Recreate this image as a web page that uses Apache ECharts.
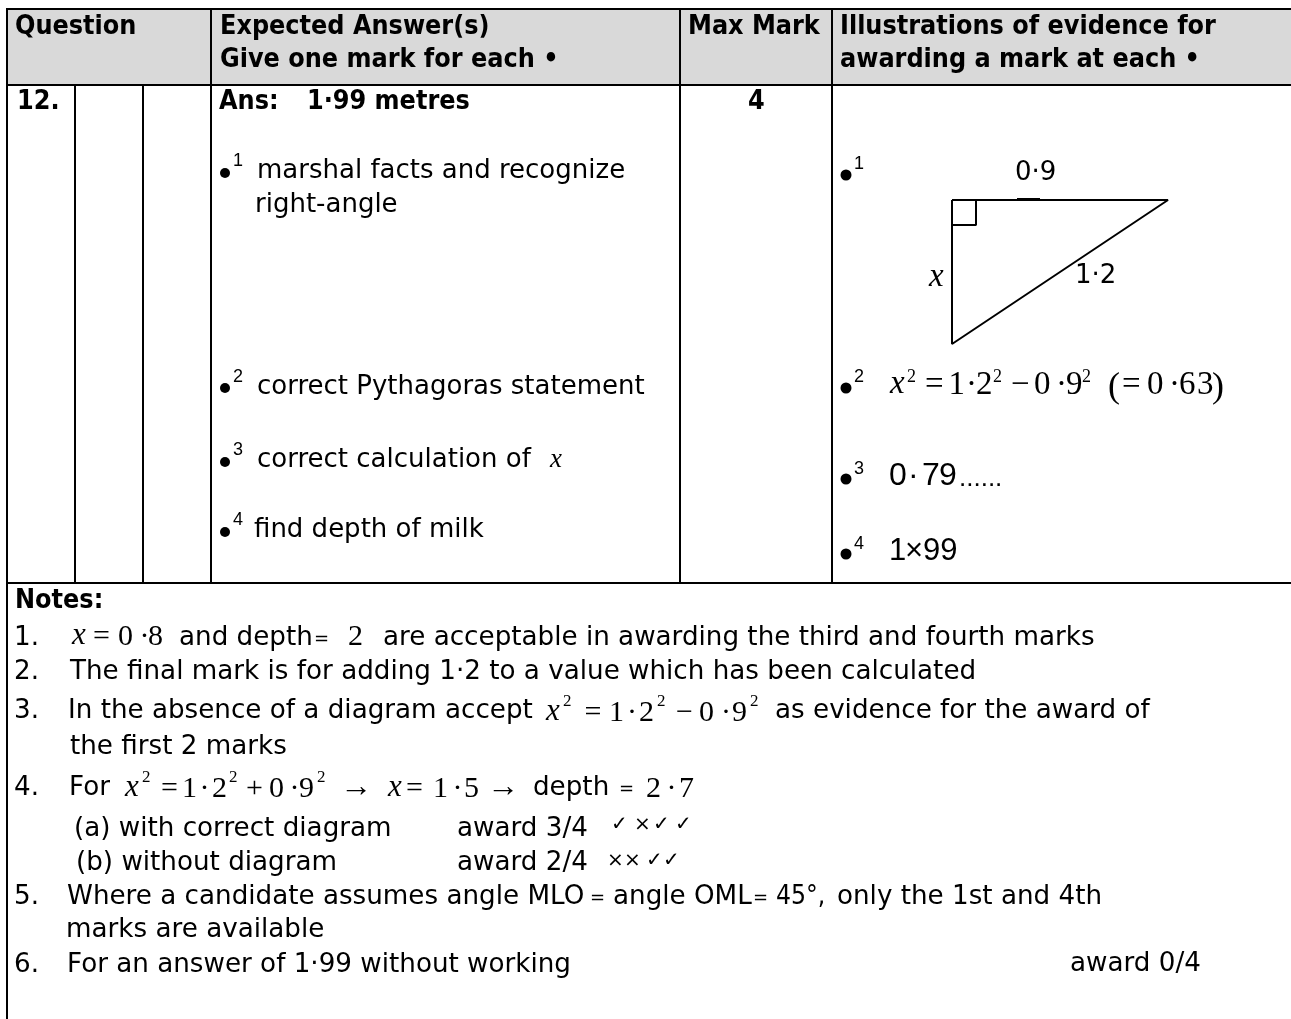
<!DOCTYPE html>
<html>
<head>
<meta charset="utf-8">
<style>
  html, body { margin: 0; padding: 0; background: #fff; }
  #main { width: 1291px; height: 1019px; }
</style>
<script src="https://cdn.jsdelivr.net/npm/echarts@6/dist/echarts.min.js"></script>
</head>
<body>
<div id="main"></div>
<script>
// page is laid out on a hidden 1291 x 1019 value grid
const headerLabels = ['Question', 'Expected Answer(s)', 'Give one mark for each •', 'Max Mark', 'Illustrations of evidence for', 'awarding a mark at each •']
const headerAnchors = [[15, 27], [220, 27], [220, 60], [688, 27], [840, 27], [840, 60]]

const answerHeads = ['12.', 'Ans:', '1·99 metres', '4']
const answerHeadAnchors = [[17, 102], [219, 102], [307, 102], [748, 102]]

const markLabels = ['marshal facts and recognize', 'right-angle', 'correct Pythagoras statement', 'correct calculation of', '[j:x]', 'find depth of milk']
const markAnchors = [[257, 171], [255, 205], [257, 387], [257, 460], [550, 460], [254, 530]]

const evidenceLabels = ['0·9', '1·2', '[I:x]', '[D:......]']
const evidenceAnchors = [[1015, 173], [1075, 276], [929, 278], [959, 479]]

// formula of mark 2, glyph by glyph
const evidenceFormula = ['[I:x]', '[S:2]', '[M:=]', '[M:1]', '[M:·]', '[M:2]', '[S:2]', '[M:−]', '[M:0]', '[M:·]', '[M:9]', '[S:2]', '[P:(]', '[M:=]', '[M:0]', '[M:·]', '[M:6]', '[M:3]', '[P:)]']
const evidenceFormulaX = [890, 907, 925, 948.5, 966, 976, 993, 1011, 1034, 1056, 1066, 1082, 1108, 1122, 1147, 1169, 1179, 1197, 1212]

const evidenceValues = ['[L:0]', '[L:·]', '[L:7]', '[L:9]', '[K:1]', '[K:×]', '[K:99]']
const evidenceValueAnchors = [[889, 476.5], [908, 476.5], [922, 476.5], [939, 476.5], [889, 551], [905, 551], [923, 551]]

const markSupers = ['1', '2', '3', '4', '1', '2', '3', '4']
const superAnchors = [[233, 161], [233, 377], [233, 450], [233, 520], [854, 164], [854, 377], [854, 469], [854, 544]]

const noteLabels = [
  '1.',
  'and depth',
  '[e:=]',
  'are acceptable in awarding the third and fourth marks',
  '2.',
  'The final mark is for adding 1·2 to a value which has been calculated',
  '3.',
  'In the absence of a diagram accept',
  'as evidence for the award of',
  'the first 2 marks',
  '4.',
  'For',
  'depth',
  '[e:=]',
  '(a) with correct diagram',
  'award 3/4',
  '(b) without diagram',
  'award 2/4',
  '5.',
  'Where a candidate assumes angle MLO',
  '[e:=]',
  'angle OML',
  '[e:=]',
  '[c:45°,]',
  'only the 1st and 4th',
  'marks are available',
  '6.',
  'For an answer of 1·99 without working',
  'award 0/4'
]
const noteAnchors = [
  [14, 638], [179, 638], [314, 638], [383, 638], [14, 672], [70, 672], [14, 711], [68, 711], [775, 711], [70, 747],
  [14, 788], [69, 788], [533, 788], [619, 788], [74, 829], [457, 829], [76, 863], [457, 863],
  [14, 897], [67, 897], [590, 897], [613, 897], [753, 897], [776, 897], [837, 897], [66, 930], [14, 965], [67, 965], [1070, 964]
]

const note1Formula = ['[i:x]', '[m:=]', '[m:0]', '[m:·]', '[m:8]', '[m:2]']
const note1FormulaX = [72, 93, 118, 139.5, 148, 348]
const note3Formula = ['[i:x]', '[s:2]', '[m:=]', '[m:1]', '[m:·]', '[m:2]', '[s:2]', '[m:−]', '[m:0]', '[m:·]', '[m:9]', '[s:2]']
const note3FormulaX = [546, 563, 584.5, 609, 627, 639, 657, 676, 699, 721, 732, 750]
const note4Formula = ['[i:x]', '[s:2]', '[m:=]', '[m:1]', '[m:·]', '[m:2]', '[s:2]', '[m:+]', '[m:0]', '[m:·]', '[m:9]', '[s:2]', '[a:→]', '[i:x]', '[m:=]', '[m:1]', '[m:·]', '[m:5]', '[a:→]', '[m:2]', '[m:·]', '[m:7]']
const note4FormulaX = [125, 142, 161, 182, 199.5, 212, 229, 246, 269, 289.5, 299, 317, 340, 388, 406, 433, 452.5, 464, 487, 646, 666.5, 679]

const markTicks = ['✓', '×', '✓', '✓', '×', '×', '✓', '✓']
const markTickAnchors = [[611, 825], [634, 825], [653, 825], [675, 825], [607, 861], [624, 861], [646, 861], [663, 861]]

const answerBullets = [[225, 173], [225, 388], [225, 462], [225, 532]]
const evidenceBullets = [[846, 175], [846, 388], [846, 479], [846, 554]]

// triangle of mark 1
const triangleSides = [[952, 200], [1168, 200], [952, 344], [952, 200]]
const rightAngleBox = [[952, 225], [976, 225], [976, 200]]
const sideTick = [[1017, 199], [1040, 199]]

const ruleSegments = [
  [6, 9, 1291, 9], [6, 85, 1291, 85], [6, 583, 1291, 583],
  [7, 9, 7, 1019], [75, 85, 75, 583], [143, 85, 143, 583], [211, 9, 211, 583],
  [680, 9, 680, 583], [832, 9, 832, 583]
]
const headerBand = [[7, 9, 1291, 85]]

const bodyFont = '"DejaVu Sans", sans-serif'
const boldFont = '"DejaVu Sans Condensed", "DejaVu Sans", sans-serif'
const textStyles = {
  n: { font: `26px ${bodyFont}` },
  N: { font: `26.2px ${bodyFont}` },
  e: { font: `18px ${bodyFont}`, dy: 1 },
  c: { font: `26.2px ${boldFont}` },
  b: { font: `bold 26.7px ${boldFont}` },
  L: { font: '32px "Liberation Sans"' },
  D: { font: '26px "Liberation Sans"' },
  K: { font: '31px "Liberation Sans"' },
  j: { font: 'italic 27px "Liberation Serif"' },
  i: { font: 'italic 31px "Liberation Serif"', dy: -2 },
  m: { font: '30px "Liberation Serif"' },
  s: { font: '17px "Liberation Serif"', dy: -12 },
  a: { font: '32px "Liberation Serif"', dy: -2 },
  I: { font: 'italic 33px "Liberation Serif"', dy: -1 },
  M: { font: '33px "Liberation Serif"' },
  S: { font: '18px "Liberation Serif"', dy: -7.7 },
  P: { font: '36px "Liberation Serif"', dy: 3 },
  u: { font: '18px "Liberation Sans"' },
  t: { font: '20px "DejaVu Sans"' }
}

function placeRows(labels, anchors, style) {
  return labels.map((text, i) => ({ text, style, at: anchors[i] }))
}

function placeFormula(glyphs, xs, y) {
  return glyphs.map((text, i) => ({ text, style: 'm', at: [xs[i], y] }))
}

const textRows = [
  ...placeRows(headerLabels, headerAnchors, 'b'),
  ...placeRows(answerHeads, answerHeadAnchors, 'b'),
  ...placeRows(markLabels, markAnchors, 'n'),
  ...placeRows(evidenceLabels, evidenceAnchors, 'n'),
  ...placeFormula(evidenceFormula, evidenceFormulaX, 385),
  ...placeRows(evidenceValues, evidenceValueAnchors, 'L'),
  ...placeRows(markSupers, superAnchors, 'u'),
  ...placeRows(['Notes:'], [[15, 601]], 'b'),
  ...placeRows(noteLabels, noteAnchors, 'N'),
  ...placeFormula(note1Formula, note1FormulaX, 637.5),
  ...placeFormula(note3Formula, note3FormulaX, 713.5),
  ...placeFormula(note4Formula, note4FormulaX, 789.5),
  ...placeRows(markTicks, markTickAnchors, 't')
]

const measure = document.createElement('canvas').getContext('2d')

function parseRuns(text, baseStyle) {
  return text.split(/(\[[a-zA-Z]:[^\]]*\])/).filter(Boolean).map((part) => {
    const tag = part.match(/^\[([a-zA-Z]):([^\]]*)\]$/)
    return tag ? { style: tag[1], text: tag[2] } : { style: baseStyle, text: part }
  })
}

function renderTextRow(params, api) {
  const origin = api.coord([api.value(0), api.value(1)])
  const row = textRows[params.dataIndex]
  let x = origin[0]
  const children = parseRuns(row.text, row.style).map((run) => {
    const style = textStyles[run.style]
    measure.font = style.font
    const child = {
      type: 'text',
      x,
      y: origin[1] + (style.dy || 0),
      style: { text: run.text, font: style.font, fill: '#000', textAlign: 'left', textVerticalAlign: 'middle' }
    }
    x += measure.measureText(run.text).width
    return child
  })
  return { type: 'group', children }
}

function renderRule(params, api) {
  const from = api.coord([api.value(0), api.value(1)])
  const to = api.coord([api.value(2), api.value(3)])
  return {
    type: 'line',
    shape: { x1: from[0], y1: from[1], x2: to[0], y2: to[1] },
    style: { stroke: '#000', lineWidth: 2 }
  }
}

function renderBand(params, api) {
  const from = api.coord([api.value(0), api.value(1)])
  const to = api.coord([api.value(2), api.value(3)])
  return {
    type: 'rect',
    shape: { x: from[0], y: from[1], width: to[0] - from[0], height: to[1] - from[1] },
    style: { fill: '#d9d9d9' }
  }
}

function figureLine(data, width) {
  return {
    type: 'line',
    data,
    symbol: 'none',
    silent: true,
    clip: false,
    lineStyle: { color: '#000', width }
  }
}

function bulletSeries(data, size) {
  return {
    type: 'scatter',
    data,
    symbol: 'circle',
    symbolSize: size,
    silent: true,
    itemStyle: { color: '#000', opacity: 1 }
  }
}

const chart = echarts.init(document.getElementById('main'))
chart.setOption({
  animation: false,
  backgroundColor: '#fff',
  grid: { left: 0, right: 0, top: 0, bottom: 0 },
  xAxis: { type: 'value', min: 0, max: 1291, show: false },
  yAxis: { type: 'value', min: 0, max: 1019, inverse: true, show: false },
  series: [
    { type: 'custom', renderItem: renderBand, data: headerBand, silent: true },
    { type: 'custom', renderItem: renderRule, data: ruleSegments, silent: true, clip: false },
    figureLine(triangleSides, 2),
    figureLine(rightAngleBox, 2),
    figureLine(sideTick, 2),
    bulletSeries(answerBullets, 10),
    bulletSeries(evidenceBullets, 11),
    { type: 'custom', renderItem: renderTextRow, data: textRows.map((row) => row.at), silent: true, clip: false }
  ]
})
</script>
</body>
</html>
